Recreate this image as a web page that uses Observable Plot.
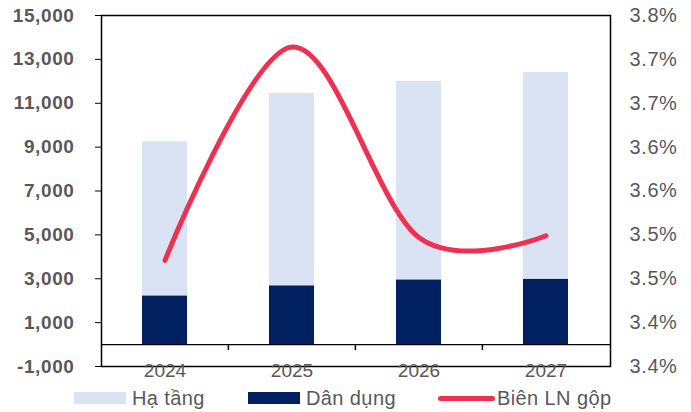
<!DOCTYPE html>
<html>
<head>
<meta charset="utf-8">
<script src="https://cdn.jsdelivr.net/npm/d3@7"></script>
<script src="https://cdn.jsdelivr.net/npm/@observablehq/plot@0.6"></script>
<style>
  body { margin: 0; background: #fff; font-family: "Liberation Sans", Arial, sans-serif; }
  #chart { width: 691px; height: 412px; position: relative; overflow: hidden; }
  #chart g[aria-label="y-axis tick label"] { letter-spacing: 0.6px; }
  .legend { position: relative; height: 27px; color: #595959; font-size: 20px; letter-spacing: 0.4px; }
  .item { position: absolute; top: 0; height: 26px; display: flex; align-items: center; white-space: nowrap; }
  .swatch { display: inline-block; width: 52px; height: 12px; margin-right: 6px; }
  .lineswatch { display: inline-block; width: 57px; height: 5px; border-radius: 3px; margin-right: 2px; }
</style>
</head>
<body>
<div id="chart"></div>
<script>
// Categories and series values
const years = ["2024", "2025", "2026", "2027"];
const haTang = [7030, 8770, 9050, 9420];      // Hạ tầng (stacked on top)
const danDung = [2220, 2680, 2950, 2980];     // Dân dụng (bottom of stack)
const bienLN = [3.501, 3.744, 3.527, 3.529];  // Biên LN gộp, %

// Axis ticks
const leftTicks = [-1000, 1000, 3000, 5000, 7000, 9000, 11000, 13000, 15000];
const rightTicks = [3.38, 3.43, 3.48, 3.53, 3.58, 3.63, 3.68, 3.73, 3.78];

// Series names and colours
const seriesNames = ["Hạ tầng", "Dân dụng", "Biên LN gộp"];
const seriesColors = ["#DAE3F3", "#002060", "#EE3150"];

const W = 691, H = 385;
const mL = 101, mR = 81, mT = 15, mB = 19;
const step = (W - mL - mR) / years.length;

// The margin line shares the left scale: map the % range onto the left domain
const pctToLeft = d3.scaleLinear([rightTicks[0], rightTicks[rightTicks.length - 1]],
                                 [leftTicks[0], leftTicks[leftTicks.length - 1]]);

const barRows = years.flatMap((year, i) => [
  {year, series: seriesNames[1], value: danDung[i]},
  {year, series: seriesNames[0], value: haTang[i]}
]);
const lineRows = years.map((year, i) => ({year, pct: bienLN[i]}));

const fmtThousands = d => (d < 0 ? "-" : "") + d3.format(",")(Math.abs(d));

const chart = Plot.plot({
  width: W,
  height: H,
  marginLeft: mL,
  marginRight: mR,
  marginTop: mT,
  marginBottom: mB,
  style: {fontFamily: "'Liberation Sans', Arial, sans-serif", background: "#fff", overflow: "visible"},
  x: {type: "band", domain: years, paddingInner: 0.644, paddingOuter: 0.322},
  y: {domain: [leftTicks[0], leftTicks[leftTicks.length - 1]]},
  color: {domain: seriesNames.slice(0, 2), range: seriesColors.slice(0, 2)},
  marks: [
    Plot.barY(barRows, {x: "year", y: "value", fill: "series"}),
    Plot.ruleY([0], {stroke: "#000", strokeWidth: 1.2}),
    // category separators hanging below the zero line
    Plot.ruleX(years.slice(1), {x: d => d, y1: 0, y2: 0, insetBottom: -6, dx: -step / 2, stroke: "#000", strokeWidth: 1.5}),
    Plot.line(lineRows, {
      x: "year",
      y: d => pctToLeft(d.pct),
      curve: "cardinal",
      stroke: seriesColors[2],
      strokeWidth: 5,
      strokeLinecap: "round",
      strokeLinejoin: "round"
    }),
    Plot.frame({stroke: "#000", strokeWidth: 1.5}),
    Plot.axisY({
      anchor: "left", ticks: leftTicks, tickFormat: fmtThousands,
      tickSize: 6, tickPadding: 21, fontSize: 19, fontWeight: "bold",
      fill: "#595959", stroke: "#000", label: null
    }),
    Plot.axisY({
      anchor: "right", ticks: rightTicks.map(v => pctToLeft(v)),
      tickFormat: d => pctToLeft.invert(d).toFixed(1) + "%",
      tickSize: 0, tickPadding: 19, fontSize: 20, fill: "#595959", label: null
    }),
    Plot.axisX({anchor: "bottom", tickSize: 0, tickPadding: -3, fontSize: 19, fill: "#595959", label: null})
  ]
});

const root = document.getElementById("chart");
root.appendChild(chart);

// Legend below the plot
const legend = document.createElement("div");
legend.className = "legend";
const legendItems = [
  {name: seriesNames[0], color: seriesColors[0], kind: "box", left: 74},
  {name: seriesNames[1], color: seriesColors[1], kind: "box", left: 248},
  {name: seriesNames[2], color: seriesColors[2], kind: "line", left: 438}
];
for (const it of legendItems) {
  const el = document.createElement("div");
  el.className = "item";
  el.style.left = it.left + "px";
  const sw = document.createElement("span");
  sw.className = it.kind === "box" ? "swatch" : "lineswatch";
  sw.style.background = it.color;
  const tx = document.createElement("span");
  tx.textContent = it.name;
  el.appendChild(sw);
  el.appendChild(tx);
  legend.appendChild(el);
}
root.appendChild(legend);
</script>
</body>
</html>
